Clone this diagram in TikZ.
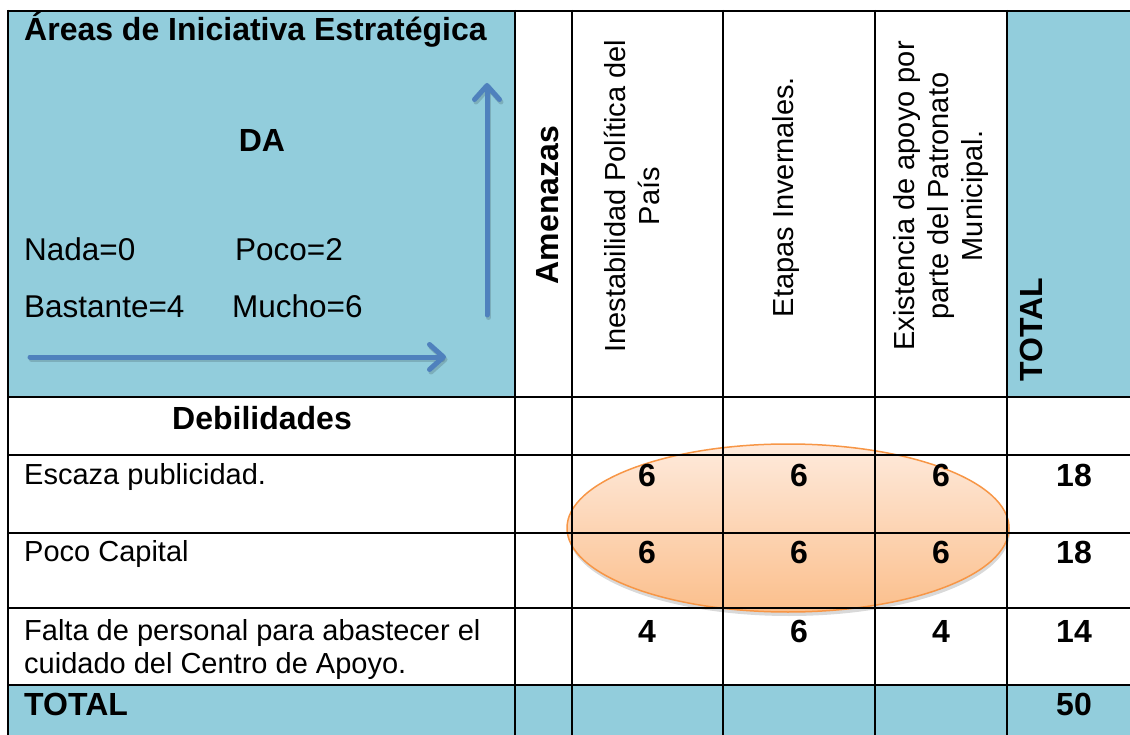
\documentclass[tikz,border=0pt]{standalone}
\usepackage{fontspec}
\setmainfont{Liberation Sans}
\usetikzlibrary{arrows.meta,shadows,shapes.geometric}
\definecolor{cellblue}{HTML}{92CDDC}
\definecolor{axisblue}{HTML}{4F81BD}
\definecolor{ovalline}{HTML}{F79646}
\definecolor{ovaltop}{HTML}{FEEADC}
\definecolor{ovalbot}{HTML}{FBBF8C}
\begin{document}
\begin{tikzpicture}[x=1pt,y=-1pt,
  body/.style={font=\fontsize{29}{34}\selectfont, inner sep=0pt},
  legend/.style={font=\fontsize{31.5}{36}\selectfont, inner sep=0pt},
  bodyb/.style={font=\fontsize{32}{36}\selectfont\bfseries, inner sep=0pt},
  gridline/.style={line width=2.5pt, black},
  axisline/.style={line width=5pt, axisblue, line cap=round,
    -{Straight Barb[length=14pt,width=25pt,line width=5pt,round]}},
  axisshadow/.style={line width=5pt, black, opacity=0.15, line cap=round,
    -{Straight Barb[length=14pt,width=25pt,line width=5pt,round]}},
  vhead/.style={font=\fontsize{29}{34}\selectfont, inner sep=0pt, rotate=90, align=center},
  vheadb/.style={font=\fontsize{32}{36}\selectfont\bfseries, inner sep=0pt, rotate=90},
  num/.style={font=\fontsize{32}{36}\selectfont\bfseries, inner sep=0pt, anchor=base},
]
\useasboundingbox (0,0) rectangle (1130,735);
% fills
\fill[cellblue] (8,11) rectangle (515,397);
\fill[cellblue] (1007,11) rectangle (1130,397);
\fill[cellblue] (8,685) rectangle (1130,735);
% highlight oval
\node[ellipse, minimum width=442pt, minimum height=168pt, inner sep=0pt,
  draw=ovalline, line width=1.5pt, top color=ovaltop, bottom color=ovalbot,
  drop shadow={shadow xshift=1pt, shadow yshift=-4pt, opacity=0.3}] (oval) at (788,528) {};
% grid
\foreach \x in {8,515,572,723,875,1007} \draw[gridline] (\x,10) -- (\x,736);
\foreach \y in {11,397,455,533,608,685} \draw[gridline] (7,\y) -- (1131,\y);
% axes arrows
\coordinate (hs) at (30,357);
\coordinate (he) at (446,357);
\coordinate (vs) at (487,315);
\coordinate (ve) at (487,83);
\draw[axisshadow] ([shift={(1.5,2.5)}]hs) -- ([shift={(1.5,2.5)}]he);
\draw[axisshadow] ([shift={(1.5,2.5)}]vs) -- ([shift={(1.5,2.5)}]ve);
\draw[axisline] (hs) -- (he);
\draw[axisline] (vs) -- (ve);
% header texts
\node[bodyb, anchor=base west] (title) at (24,41) {Áreas de Iniciativa Estratégica};
\node[bodyb, anchor=base] (da) at (262,152) {DA};
\node[legend, anchor=base west] (nada) at (24,261) {Nada=0};
\node[legend, anchor=base west] (poco) at (235,261) {Poco=2};
\node[legend, anchor=base west] (bast) at (24,318) {Bastante=4};
\node[legend, anchor=base west] (mucho) at (232,318) {Mucho=6};
\node[vheadb] (amen) at (548,205) {Amenazas};
\node[vhead] (c1) at (632,196) {Inestabilidad Política del\\País};
\node[vhead] (c2) at (786,197) {Etapas Invernales.};
\node[vhead] (c3) at (941,196) {Existencia de apoyo por\\parte del Patronato\\Municipal.};
\node[vheadb, anchor=west] (tot) at (1031,382) {TOTAL};
% rows
\node[bodyb, anchor=base] (deb) at (262,429) {Debilidades};
\node[body, anchor=base west] (r1) at (24,484) {Escaza publicidad.};
\node[body, anchor=base west] (r2) at (24,561) {Poco Capital};
\node[body, anchor=base west] (r3) at (24,640) {Falta de personal para abastecer el};
\node[body, anchor=base west] (r3b) at (24,673) {cuidado del Centro de Apoyo.};
\node[bodyb, anchor=base west] (rt) at (24,715) {TOTAL};
% numbers
\node[num] (n11) at (647,486) {6};
\node[num] (n12) at (799,486) {6};
\node[num] (n13) at (941,486) {6};
\node[num] (n14) at (1074,486) {18};
\node[num] (n21) at (647,563) {6};
\node[num] (n22) at (799,563) {6};
\node[num] (n23) at (941,563) {6};
\node[num] (n24) at (1074,563) {18};
\node[num] (n31) at (647,642) {4};
\node[num] (n32) at (799,642) {6};
\node[num] (n33) at (941,642) {4};
\node[num] (n34) at (1074,642) {14};
\node[num] (n44) at (1074,715) {50};
\end{tikzpicture}
\end{document}
